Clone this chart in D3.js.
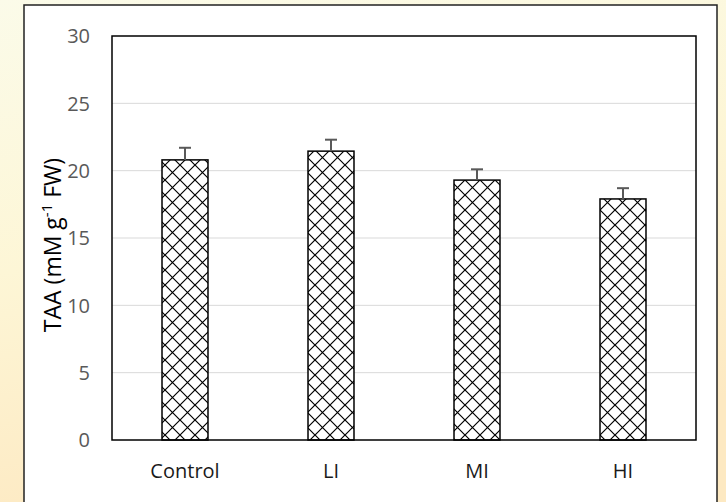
<!DOCTYPE html>
<html><head><meta charset="utf-8">
<script src="https://cdn.jsdelivr.net/npm/d3@7/dist/d3.min.js"></script>
<style>body{margin:0;padding:0;overflow:hidden}</style>
</head><body>
<svg id="c" width="726" height="502"></svg>
<script>
const categories = ["Control", "LI", "MI", "HI"];
const means = [20.8, 21.45, 19.3, 17.9];
const errors = [0.9, 0.85, 0.8, 0.8];
const yTicks = [0, 5, 10, 15, 20, 25, 30];

const svg = d3.select("#c");
const defs = svg.append("defs");
const bg = defs.append("linearGradient").attr("id","bg").attr("x1","0").attr("y1","0").attr("x2","0.3").attr("y2","1");
bg.append("stop").attr("offset","0").attr("stop-color","#fbfbe9");
bg.append("stop").attr("offset","0.5").attr("stop-color","#fdf6d6");
bg.append("stop").attr("offset","1").attr("stop-color","#fde9c2");
const pat = defs.append("pattern").attr("id","hatch").attr("patternUnits","userSpaceOnUse")
  .attr("width",15).attr("height",15).attr("x",0).attr("y",0);
pat.append("rect").attr("width",15).attr("height",15).attr("fill","#fff");
pat.append("path").attr("d","M0,0L15,15M15,0L0,15").attr("stroke","#000").attr("stroke-width",1.2);

svg.append("rect").attr("width",726).attr("height",502).attr("fill","url(#bg)");
svg.append("rect").attr("x",24).attr("y",5).attr("width",693).attr("height",510)
  .attr("fill","#fff").attr("stroke","#222").attr("stroke-width",1.5);

const m = {l:112, t:36, r:696, b:440};
const x = d3.scaleBand().domain(categories).range([m.l, m.r]).paddingInner(0.685).paddingOuter(0.3425);
const y = d3.scaleLinear().domain([0,30]).range([m.b, m.t]);

const font = "Open Sans, Liberation Sans, sans-serif";

// gridlines
svg.append("g").selectAll("line").data(yTicks.filter(d=>d>0 && d<30)).join("line")
  .attr("x1",m.l).attr("x2",m.r).attr("y1",d=>y(d)).attr("y2",d=>y(d))
  .attr("stroke","#d9d9d9").attr("stroke-width",1);

// y tick labels
svg.append("g").selectAll("text").data(yTicks).join("text")
  .attr("x",90).attr("y",d=>y(d)).attr("dy","0.36em").attr("text-anchor","end")
  .attr("font-family",font).attr("font-size",20).attr("fill","#595959")
  .text(d=>d);

// bars
svg.append("g").selectAll("rect").data(categories).join("rect")
  .attr("x",d=>x(d)).attr("width",x.bandwidth())
  .attr("y",(d,i)=>y(means[i])).attr("height",(d,i)=>y(0)-y(means[i]))
  .attr("fill","url(#hatch)").attr("stroke","#000").attr("stroke-width",1.5);

// error bars
const eg = svg.append("g").attr("stroke","#595959").attr("stroke-width",2);
categories.forEach((c,i)=>{
  const cx = x(c)+x.bandwidth()/2;
  eg.append("line").attr("x1",cx).attr("x2",cx).attr("y1",y(means[i])).attr("y2",y(means[i]+errors[i]));
  eg.append("line").attr("x1",cx-6).attr("x2",cx+6).attr("y1",y(means[i]+errors[i])).attr("y2",y(means[i]+errors[i]));
});

// plot border
svg.append("rect").attr("x",m.l).attr("y",m.t).attr("width",m.r-m.l).attr("height",m.b-m.t)
  .attr("fill","none").attr("stroke","#000").attr("stroke-width",1.5);

// category labels
svg.append("g").selectAll("text").data(categories).join("text")
  .attr("x",d=>x(d)+x.bandwidth()/2).attr("y",478).attr("text-anchor","middle")
  .attr("font-family",font).attr("font-size",20).attr("fill","#1a1a1a")
  .text(d=>d);

// y axis title
const t = svg.append("text").attr("transform","translate(61,245) rotate(-90)")
  .attr("text-anchor","middle").attr("font-family",font)
  .attr("font-size",23).attr("fill","#000");
t.append("tspan").text("TAA (mM g");
t.append("tspan").attr("dy",-9).attr("font-size",15).text("-1");
t.append("tspan").attr("dy",9).text(" FW)");
</script>
</body></html>
